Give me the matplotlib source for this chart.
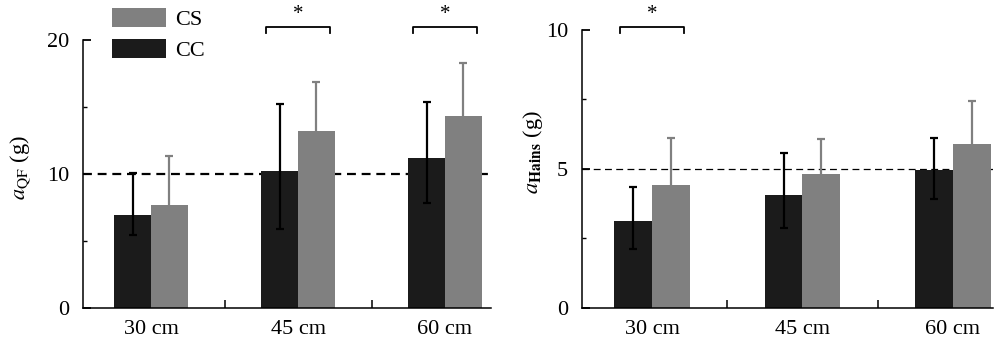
import matplotlib
matplotlib.use("Agg")
import matplotlib.pyplot as plt
from matplotlib.patches import Patch
from matplotlib.ticker import MultipleLocator, FixedLocator
import numpy as np

plt.rcParams["font.family"] = ["Liberation Serif", "DejaVu Serif"]
plt.rcParams["mathtext.fontset"] = "stix"

# Data
categories = ["30 cm", "45 cm", "60 cm"]

qf_cc = [6.94, 10.22, 11.17]
qf_cc_err_low = [1.49, 4.30, 3.33]
qf_cc_err_high = [3.10, 5.03, 4.23]
qf_cs = [7.69, 13.20, 14.33]
qf_cs_err = [3.68, 3.70, 3.97]

hains_cc = [3.13, 4.06, 4.97]
hains_cc_err_low = [1.02, 1.19, 1.06]
hains_cc_err_high = [1.23, 1.50, 1.14]
hains_cs = [4.42, 4.81, 5.89]
hains_cs_err = [1.68, 1.25, 1.54]

qf_reference = 10
hains_reference = 5
qf_significant = [1, 2]
hains_significant = [0]

CC_COLOR = "#1b1b1b"
CS_COLOR = "#808080"
FS = 16

fig = plt.figure(figsize=(9.97, 3.47), dpi=100)
ax1 = fig.add_axes([83 / 997, 1 - 308 / 347, (491 - 83) / 997, (308 - 40) / 347])
ax2 = fig.add_axes([582 / 997, 1 - 308 / 347, (993 - 582) / 997, (308 - 29.7) / 347])


def draw_panel(ax, cc, cc_lo, cc_hi, cs, cs_err, ymax, ref, ref_lw, sig, bracket_y, leg_drop, xlim):
    x = np.arange(len(categories))
    w = 0.25
    ax.axhline(ref, color="black", lw=ref_lw, ls=(0, (4, 2.6)) if ref_lw > 1.2 else (0, (5.5, 3.5)), zorder=1)
    ax.bar(x - w / 2, cc, w, color=CC_COLOR, zorder=2)
    ax.bar(x + w / 2, cs, w, color=CS_COLOR, zorder=2)
    ax.errorbar(x - w / 2, cc, yerr=[cc_lo, cc_hi], fmt="none", ecolor="black",
                elinewidth=1.6, capsize=3, capthick=1.6, zorder=3)
    ax.errorbar(x + w / 2, cs, yerr=[cs_err, cs_err], fmt="none", ecolor=CS_COLOR,
                elinewidth=1.6, capsize=3, capthick=1.6, zorder=3)
    ax.set_ylim(0, ymax)
    ax.set_xlim(*xlim)
    for s in ("top", "right"):
        ax.spines[s].set_visible(False)
    for s in ("left", "bottom"):
        ax.spines[s].set_linewidth(1.1)
    ax.set_yticks([0, ymax / 2, ymax])
    ax.set_yticklabels([f"{int(v)}" for v in (0, ymax / 2, ymax)])
    ax.yaxis.set_minor_locator(MultipleLocator(ymax / 4))
    ax.tick_params(axis="y", which="major", direction="in", length=6, width=1.3,
                   labelsize=FS, pad=10)
    ax.tick_params(axis="y", which="minor", direction="in", length=3, width=1.0)
    ax.set_xticks(x)
    ax.set_xticklabels(categories)
    ax.xaxis.set_minor_locator(FixedLocator([0.5, 1.5]))
    ax.tick_params(axis="x", which="major", length=0, labelsize=FS, pad=9)
    ax.tick_params(axis="x", which="minor", direction="in", length=6, width=1.1)
    for i in sig:
        x0, x1 = i - 0.44 * w * 2 + 0.005, i + 0.44 * w * 2 - 0.005
        ax.plot([x0, x0, x1, x1], [bracket_y - leg_drop, bracket_y, bracket_y, bracket_y - leg_drop],
                color="black", lw=1.3, clip_on=False)
        ax.text(i, bracket_y + leg_drop * 0.4, "*", ha="center", va="bottom",
                fontsize=FS - 1, clip_on=False)


draw_panel(ax1, qf_cc, qf_cc_err_low, qf_cc_err_high, qf_cs, qf_cs_err,
           20, qf_reference, 1.6, qf_significant, 21.0, 0.5, (-0.463, 2.313))
draw_panel(ax2, hains_cc, hains_cc_err_low, hains_cc_err_high, hains_cs, hains_cs_err,
           10, hains_reference, 0.9, hains_significant, 10.11, 0.24, (-0.465, 2.266))

fig.text(20 / 997, 1 - 168 / 347, r"$a_{\mathrm{QF}}$ (g)", rotation=90,
         ha="center", va="center", fontsize=FS)
fig.text(533 / 997, 1 - 152 / 347, r"$a_{\mathsf{\mathbf{Hains}}}$ (g)", rotation=90,
         ha="center", va="center", fontsize=FS)

handles = [Patch(facecolor=CS_COLOR, edgecolor="none"),
           Patch(facecolor=CC_COLOR, edgecolor="none")]
fig.legend(handles, ["CS", "CC"], loc="upper left",
           bbox_to_anchor=(112 / 997, 1 - 8 / 347), frameon=False, fontsize=FS,
           handlelength=2.45, handleheight=0.95, labelspacing=0.4,
           handletextpad=0.4, borderpad=0, borderaxespad=0)

fig.savefig("out.png", dpi=100)
